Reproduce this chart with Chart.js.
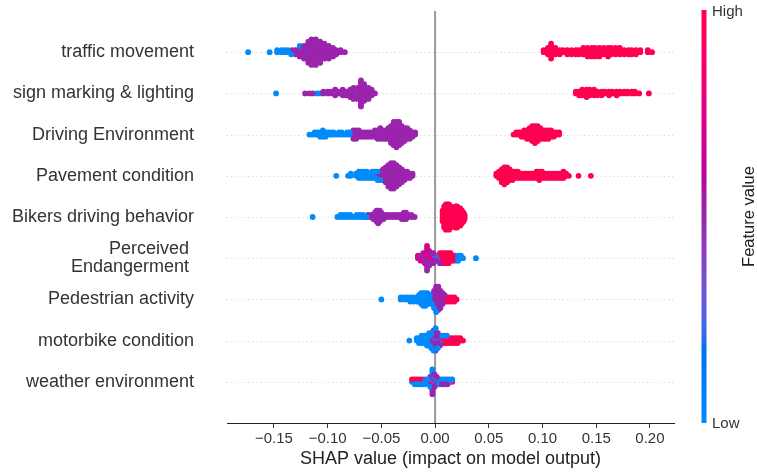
<!DOCTYPE html>
<html>
<head>
<meta charset="utf-8">
<style>
html,body{margin:0;padding:0;background:#ffffff;}
canvas{display:block;}
</style>
<script src="https://cdn.jsdelivr.net/npm/chart.js@4.4.1/dist/chart.umd.min.js"></script>
</head>
<body>
<canvas id="c" width="757" height="473"></canvas>
<script>
// ---------- text ----------
const featureNames = [
  "traffic movement",
  "sign marking & lighting",
  "Driving Environment",
  "Pavement condition",
  "Bikers driving behavior",
  ["Perceived ", "Endangerment "],
  "Pedestrian activity",
  "motorbike condition",
  "weather environment"
];
const xTickValues = [-0.15, -0.10, -0.05, 0.00, 0.05, 0.10, 0.15, 0.20];
const xAxisTitle = "SHAP value (impact on model output)";
const colorbarTitle = "Feature value";
const colorbarLow = "Low";
const colorbarHigh = "High";
const xMin = -0.1937, xMax = 0.2224;

// feature-value levels (0 = low, 1 = high)
const LOW = 0, MIDLOW = 0.25, MID = 0.5, MIDHIGH = 0.75, HIGH = 1;

// ---------- data: [SHAP value, number of samples] ----------
const trafficLow  = [[-0.174,1],[-0.154,1],[-0.147,2],[-0.143,2],[-0.140,2],[-0.137,2],[-0.134,1],[-0.126,1],[-0.119,1],[-0.107,1]];
const trafficMid  = [[-0.133,2],[-0.130,3],[-0.126,5],[-0.122,7],[-0.118,10],[-0.115,13],[-0.111,13],[-0.107,10],[-0.103,8],[-0.099,7],[-0.095,5],[-0.092,3],[-0.088,2],[-0.084,1]];
const trafficHigh = [[0.101,2],[0.105,4],[0.108,8],[0.112,4],[0.116,3],[0.119,2],[0.123,3],[0.127,3],[0.131,3],[0.134,3],[0.138,4],[0.142,5],[0.146,5],[0.149,5],[0.153,5],[0.157,4],[0.161,5],[0.164,4],[0.168,4],[0.172,4],[0.176,3],[0.180,3],[0.183,3],[0.187,3],[0.191,2],[0.198,2],[0.202,1]];

const signLow  = [[-0.148,1],[-0.110,1],[-0.107,1],[-0.091,2],[-0.084,2],[-0.080,1],[-0.076,2],[-0.073,2]];
const signMid  = [[-0.121,1],[-0.117,1],[-0.114,1],[-0.104,2],[-0.100,2],[-0.097,2],[-0.093,2],[-0.090,2],[-0.086,2],[-0.083,3],[-0.079,4],[-0.076,5],[-0.072,5],[-0.069,15],[-0.066,10],[-0.062,7],[-0.059,4],[-0.056,1]];
const signHigh = [[0.131,2],[0.134,3],[0.137,4],[0.141,5],[0.144,4],[0.148,4],[0.151,3],[0.155,3],[0.158,2],[0.162,3],[0.165,2],[0.169,3],[0.172,2],[0.176,2],[0.179,2],[0.183,2],[0.186,2],[0.190,1],[0.199,1]];

const drivingLow  = [[-0.117,1],[-0.1145,1],[-0.112,2],[-0.1095,2],[-0.107,3],[-0.1045,4],[-0.102,3],[-0.0995,2],[-0.097,2],[-0.0945,2],[-0.092,1],[-0.0895,2],[-0.087,2],[-0.0845,1],[-0.082,2],[-0.0795,2]];
const drivingMid  = [[-0.0760,5],[-0.0735,5],[-0.0710,4],[-0.0685,3],[-0.0660,3],[-0.0635,3],[-0.0610,3],[-0.0585,3],[-0.0560,4],[-0.0535,5],[-0.0510,6],[-0.0485,5],[-0.0460,5],[-0.0435,6],[-0.0410,9],[-0.0385,12],[-0.0360,13],[-0.0335,12],[-0.0310,9],[-0.0285,7],[-0.0260,6],[-0.0235,5],[-0.0210,3],[-0.0185,2]];
const drivingHigh = [[0.0730,1],[0.0755,2],[0.0780,2],[0.0805,3],[0.0830,4],[0.0855,5],[0.0880,6],[0.0905,8],[0.0930,9],[0.0955,8],[0.0980,6],[0.1005,5],[0.1030,5],[0.1055,5],[0.1080,4],[0.1105,3],[0.1130,2],[0.1155,2]];

const pavementLow  = [[-0.092,1],[-0.081,1],[-0.0785,2],[-0.0735,2],[-0.071,4],[-0.0685,4],[-0.066,4],[-0.0635,4],[-0.061,3],[-0.0585,3],[-0.056,2],[-0.0535,2],[-0.051,1]];
const pavementMid  = [[-0.0585,1],[-0.056,2],[-0.0535,3],[-0.051,4],[-0.0485,6],[-0.046,8],[-0.0435,11],[-0.041,13],[-0.0385,13],[-0.036,11],[-0.0335,9],[-0.031,7],[-0.0285,5],[-0.026,4],[-0.0235,3],[-0.021,2]];
const pavementHigh = [[0.0570,2],[0.0595,4],[0.0620,7],[0.0645,9],[0.0670,8],[0.0695,6],[0.0720,5],[0.0745,4],[0.0770,4],[0.0795,3],[0.0820,3],[0.0845,3],[0.0870,3],[0.0895,3],[0.0920,3],[0.0945,4],[0.0970,5],[0.0995,4],[0.1020,3],[0.1045,3],[0.1070,3],[0.1095,3],[0.1120,3],[0.1145,3],[0.1170,3],[0.1195,4],[0.1220,2],[0.1245,1],[0.1335,1],[0.1450,1]];

const bikersLow  = [[-0.114,1],[-0.091,1],[-0.088,2],[-0.085,2],[-0.082,2],[-0.079,2],[-0.076,1],[-0.073,2],[-0.070,2],[-0.067,2],[-0.064,1]];
const bikersMid  = [[-0.0655,1],[-0.0625,2],[-0.0595,2],[-0.0575,3],[-0.0560,4],[-0.0545,6],[-0.0530,7],[-0.0515,6],[-0.0500,4],[-0.0480,3],[-0.0455,2],[-0.0425,2],[-0.0395,2],[-0.0365,2],[-0.0335,2],[-0.0310,3],[-0.0290,4],[-0.0270,4],[-0.0250,2],[-0.0220,2],[-0.0190,1]];
const bikersHigh = [[0.0070,6],[0.0085,11],[0.0100,13],[0.0115,12],[0.0130,13],[0.0145,11],[0.0160,9],[0.0175,9],[0.0190,11],[0.0205,11],[0.0220,9],[0.0235,9],[0.0250,7],[0.0265,5],[0.0275,3]];

const perceivedLow     = [[-0.0015,1],[0.0045,1],[0.0065,1],[0.0085,1],[0.0105,2],[0.0125,1],[0.0145,1],[0.0165,1],[0.019,3],[0.0215,3],[0.024,2],[0.026,1],[0.038,1]];
const perceivedMidLow  = [[-0.0135,1],[-0.011,1],[-0.0095,1],[-0.0075,1],[-0.0055,1],[-0.0035,2],[-0.0015,2],[0.0005,2],[0.0025,1]];
const perceivedMid     = [[-0.016,1],[-0.0135,1],[-0.011,2],[-0.0095,2],[-0.0075,5],[-0.0055,3],[-0.0035,2],[-0.0015,2],[0.0005,1],[0.0045,1]];
const perceivedMidHigh = [[-0.016,1],[-0.0135,1],[-0.011,1],[-0.0095,2],[-0.0075,5],[-0.0055,3],[-0.0035,1]];
const perceivedHigh    = [[0.0025,2],[0.0045,3],[0.0065,4],[0.0085,4],[0.0105,3],[0.0125,4],[0.0145,3],[0.0165,2]];

const pedestrianLow  = [[-0.050,1],[-0.032,2],[-0.029,2],[-0.026,2],[-0.023,3],[-0.020,3],[-0.017,3],[-0.015,4],[-0.013,6],[-0.011,7],[-0.009,7],[-0.007,6],[-0.005,4],[-0.003,1],[-0.001,1],[0.001,1]];
const pedestrianMid  = [[-0.005,1],[-0.003,4],[-0.001,8],[0.001,12],[0.003,11],[0.005,7],[0.007,4],[0.009,1]];
const pedestrianHigh = [[0.003,1],[0.005,2],[0.007,2],[0.009,3],[0.011,3],[0.013,3],[0.0155,3],[0.018,3],[0.020,1]];

const motorbikeLow    = [[-0.024,1],[-0.017,2],[-0.015,3],[-0.0125,3],[-0.010,4],[-0.0075,4],[-0.0055,3],[-0.0035,2],[-0.0015,1],[0.0005,1],[0.0025,1],[0.0065,1],[0.0085,1],[0.011,1]];
const motorbikeMidLow = [[-0.0125,1],[-0.0075,1],[-0.0055,2],[-0.0035,2],[-0.0015,2],[0.0005,2],[0.0025,2],[0.0045,1]];
const motorbikeMid    = [[-0.0055,1],[-0.0035,3],[-0.0015,6],[0.0005,7],[0.0025,4],[0.0045,2]];
const motorbikeHigh   = [[0.0045,2],[0.0065,3],[0.0085,3],[0.011,3],[0.0135,3],[0.016,3],[0.0185,3],[0.021,3],[0.0235,2],[0.026,1]];

const weatherLow     = [[-0.0215,1],[-0.019,1],[-0.0165,1],[-0.014,1],[-0.0115,1],[-0.009,1],[-0.0065,1],[-0.0045,1],[-0.0025,2],[-0.0005,1],[0.0015,1],[0.004,1],[0.0065,1],[0.009,1],[0.0115,1],[0.014,1],[0.016,1]];
const weatherMidLow  = [[-0.019,1],[-0.014,1],[-0.009,1],[-0.0045,1],[-0.0025,2],[-0.0005,2],[0.0015,1],[0.0065,1],[0.009,1],[0.014,1]];
const weatherMid     = [[-0.0165,1],[-0.014,1],[-0.009,1],[-0.0065,1],[-0.0045,2],[-0.0025,4],[-0.0005,2],[0.0015,2],[0.0065,1],[0.0115,1]];
const weatherMidHigh = [[-0.019,1],[-0.0115,1],[-0.0045,1],[-0.0025,3],[-0.0005,1],[0.004,1],[0.009,1]];
const weatherHigh    = [[-0.0215,1],[-0.0165,1],[-0.0115,1],[0.004,1],[0.0115,1],[0.016,1]];

// feature order top -> bottom, each: [feature level, samples]
const featureGroups = [
  [[LOW,trafficLow],[MID,trafficMid],[HIGH,trafficHigh]],
  [[LOW,signLow],[MID,signMid],[HIGH,signHigh]],
  [[LOW,drivingLow],[MID,drivingMid],[HIGH,drivingHigh]],
  [[LOW,pavementLow],[MID,pavementMid],[HIGH,pavementHigh]],
  [[LOW,bikersLow],[MID,bikersMid],[HIGH,bikersHigh]],
  [[LOW,perceivedLow],[MIDLOW,perceivedMidLow],[MID,perceivedMid],[MIDHIGH,perceivedMidHigh],[HIGH,perceivedHigh]],
  [[LOW,pedestrianLow],[MID,pedestrianMid],[HIGH,pedestrianHigh]],
  [[LOW,motorbikeLow],[MIDLOW,motorbikeMidLow],[MID,motorbikeMid],[HIGH,motorbikeHigh]],
  [[LOW,weatherLow],[MIDLOW,weatherMidLow],[MID,weatherMid],[MIDHIGH,weatherMidHigh],[HIGH,weatherHigh]]
];

// ---------- SHAP red-blue colormap (LCH interpolation) ----------
function lch2rgb(L, C, h) {
  const a = C * Math.cos(h), b = C * Math.sin(h);
  const fy = (L + 16) / 116, fx = fy + a / 500, fz = fy - b / 200;
  const finv = t => (t > 0.206893 ? t * t * t : (t - 16 / 116) / 7.787);
  const X = 0.95047 * finv(fx), Y = finv(fy), Z = 1.08883 * finv(fz);
  const lin = [3.2406 * X - 1.5372 * Y - 0.4986 * Z,
               -0.9689 * X + 1.8758 * Y + 0.0415 * Z,
               0.0557 * X - 0.2040 * Y + 1.0570 * Z];
  return lin.map(v => {
    v = v > 0.0031308 ? 1.055 * Math.pow(v, 1 / 2.4) - 0.055 : 12.92 * v;
    return Math.round(Math.min(1, Math.max(0, v)) * 255);
  });
}
function cmap(t) {
  const L = t <= 0.5 ? 54 - 28 * t : 40 + 28 * (t - 0.5);
  const C = 70 + 20 * t;
  const h = 4.6588 + t * (0.35470565 + 2 * Math.PI - 4.6588);
  const [r, g, b] = lch2rgb(L, C, h);
  return `rgb(${r},${g},${b})`;
}

// ---------- build points (beeswarm layout as in shap) ----------
function expandGroups(groups) {
  const lists = groups.map(([lvl, pairs]) => {
    const out = [];
    pairs.forEach(([v, n]) => { for (let k = 0; k < n; k++) out.push({ v, lvl }); });
    return out;
  });
  const G = lists.length;
  const res = [];
  let i = 0, any = true;
  while (any) {
    any = false;
    for (let k = 0; k < G; k++) {
      const l = lists[(k + i) % G];
      if (i < l.length) { res.push(l[i]); any = true; }
    }
    i++;
  }
  return res;
}
function swarmOffsets(vals) {
  const N = vals.length, nbins = 100, rowHeight = 0.4;
  const mn = Math.min(...vals), mx = Math.max(...vals);
  const quant = vals.map(v => Math.round(nbins * (v - mn) / (mx - mn + 1e-8)));
  const inds = [...Array(N).keys()].sort((a, b) => quant[a] - quant[b] || a - b);
  const ys = new Array(N).fill(0);
  let layer = 0, last = -1;
  for (const i of inds) {
    if (quant[i] !== last) layer = 0;
    ys[i] = Math.ceil(layer / 2) * ((layer % 2) * 2 - 1);
    layer++;
    last = quant[i];
  }
  const m = Math.max(...ys.map(y => y + 1));
  return ys.map(y => y * 0.9 * (rowHeight / m));
}

const nF = featureNames.length;
const datasets = featureGroups.map((groups, fi) => {
  const row = nF - 1 - fi;
  const pts = expandGroups(groups);
  const offs = swarmOffsets(pts.map(p => p.v));
  return {
    data: pts.map((p, i) => ({ x: p.v, y: row + offs[i] })),
    pointBackgroundColor: pts.map(p => cmap(p.lvl)),
    pointBorderWidth: 0,
    pointBorderColor: 'rgba(0,0,0,0)',
    pointRadius: 2.9,
    pointHoverRadius: 2.9
  };
});

// ---------- plugins ----------
const guides = {
  id: 'guides',
  beforeDatasetsDraw(chart) {
    const { ctx, chartArea: a, scales: { x, y } } = chart;
    ctx.save();
    ctx.strokeStyle = '#d2d2d2';
    ctx.lineWidth = 1;
    ctx.setLineDash([1, 3.2]);
    for (let r = 0; r < nF; r++) {
      const py = Math.round(y.getPixelForValue(r)) + 0.5;
      ctx.beginPath(); ctx.moveTo(a.left, py); ctx.lineTo(a.right, py); ctx.stroke();
    }
    ctx.setLineDash([]);
    ctx.strokeStyle = '#999999';
    ctx.lineWidth = 2;
    const px = x.getPixelForValue(0);
    ctx.beginPath(); ctx.moveTo(px, a.top); ctx.lineTo(px, a.bottom); ctx.stroke();
    ctx.restore();
  }
};
const colorbar = {
  id: 'colorbar',
  afterDraw(chart) {
    const { ctx, chartArea: a } = chart;
    const x0 = a.right + 27.5, w = 5, top = a.top - 1, bot = a.bottom;
    ctx.save();
    const g = ctx.createLinearGradient(0, bot, 0, top);
    for (let i = 0; i <= 60; i++) { const t = i / 60; g.addColorStop(t, cmap(t)); }
    ctx.fillStyle = g;
    ctx.fillRect(x0, top, w, bot - top);
    ctx.fillStyle = '#333333';
    ctx.font = '15px "Liberation Sans", Arial, sans-serif';
    ctx.textAlign = 'left';
    ctx.textBaseline = 'middle';
    ctx.fillText(colorbarHigh, x0 + w + 5.5, top + 1.5);
    ctx.fillText(colorbarLow, x0 + w + 5.5, bot + 1);
    ctx.translate(749, (top + bot) / 2);
    ctx.rotate(-Math.PI / 2);
    ctx.textAlign = 'center';
    ctx.fillStyle = '#222222';
    ctx.font = '16.5px "Liberation Sans", Arial, sans-serif';
    ctx.fillText(colorbarTitle, 0, 0);
    ctx.restore();
  }
};

function fmtTick(v) {
  if (Math.abs(v) < 1e-9) return '0.00';
  return (v < 0 ? '\u2212' : '') + Math.abs(v).toFixed(2);
}

Chart.defaults.font.family = '"Liberation Sans", Arial, Helvetica, sans-serif';

new Chart(document.getElementById('c'), {
  type: 'scatter',
  data: { datasets },
  options: {
    responsive: false,
    animation: false,
    events: [],
    layout: { padding: { top: 11, right: 83, left: 0, bottom: 0 } },
    plugins: { legend: { display: false }, tooltip: { enabled: false } },
    scales: {
      x: {
        type: 'linear',
        position: 'bottom',
        min: xMin,
        max: xMax,
        afterBuildTicks: s => { s.ticks = xTickValues.map(v => ({ value: v })); },
        afterFit: s => { s.height = 50; s.paddingLeft = 0; s.paddingRight = 0; },
        grid: { display: true, drawOnChartArea: false, drawTicks: true, tickLength: 5, tickColor: '#333333', tickWidth: 1 },
        border: { display: true, color: '#222222', width: 1 },
        ticks: { color: '#333333', font: { size: 15 }, padding: 2, maxRotation: 0, autoSkip: false, callback: v => fmtTick(v) },
        title: { display: true, text: xAxisTitle, color: '#222222', font: { size: 18 }, padding: { top: 0, bottom: 3 } }
      },
      y: {
        type: 'linear',
        min: -1,
        max: nF,
        afterBuildTicks: s => { s.ticks = featureNames.map((f, i) => ({ value: nF - 1 - i })); },
        afterFit: s => { s.width = 227; s.paddingTop = 0; s.paddingBottom = 0; },
        grid: { display: false, drawTicks: false },
        border: { display: false },
        ticks: { color: '#333333', font: { size: 18, lineHeight: 1.02 }, padding: 33, autoSkip: false,
                 callback: v => featureNames[nF - 1 - Math.round(v)] }
      }
    }
  },
  plugins: [guides, colorbar]
});
</script>
</body>
</html>
